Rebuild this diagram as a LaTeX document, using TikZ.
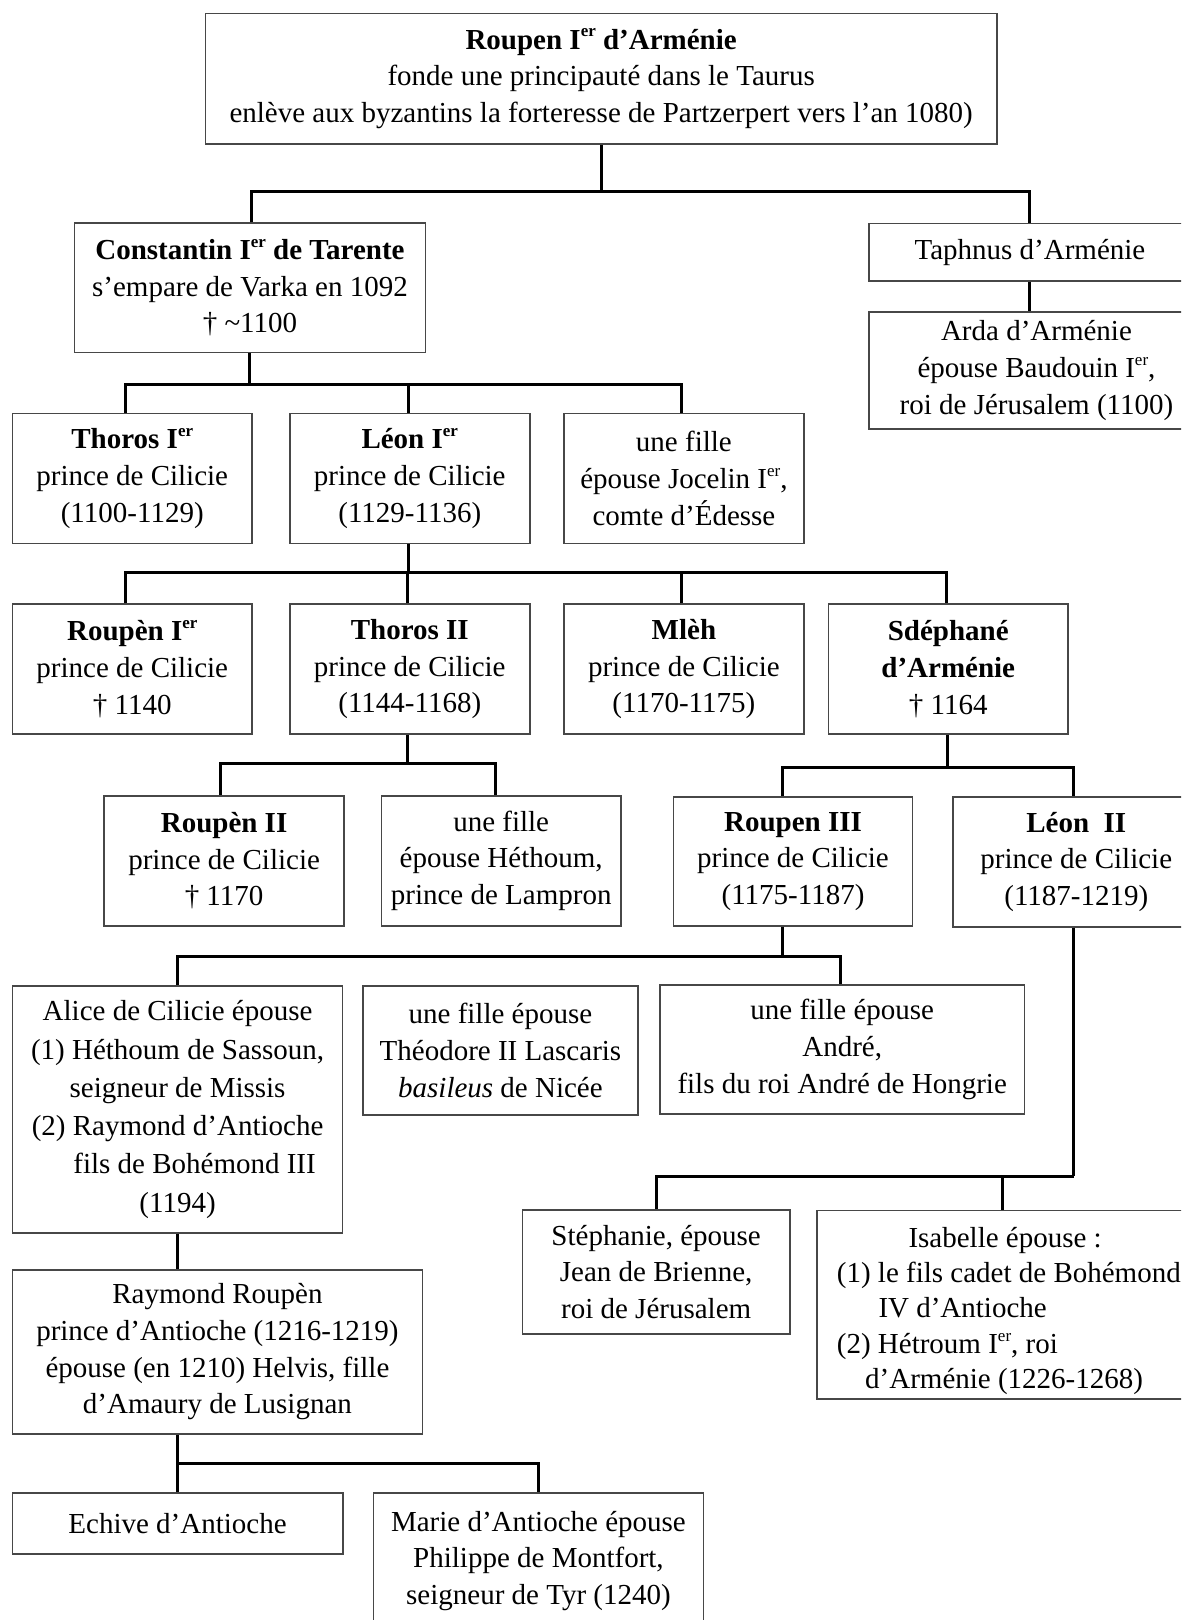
\documentclass[tikz,border=0pt]{standalone}
\usepackage{fontspec}
\setmainfont{Liberation Serif}
\usetikzlibrary{calc}
\newcommand\fsz{\fontsize{29}{36.7}\selectfont}
\newcommand\supr{\raisebox{0.42em}{\fontsize{17}{17}\selectfont er}}
\tikzset{
  box/.style={draw=black!72, line width=1.6pt, inner sep=0pt, align=center, anchor=north west, font=\fsz, fill=white},
  conn/.style={draw=black, line width=3pt, line join=miter},
}
\newcommand\mybox[7][]{\node[box,minimum width={#5pt-#3pt},minimum height={#6pt-#4pt},#1] (#2) at (#3,#4) {#7};}
\begin{document}
\begin{tikzpicture}[x=1pt,y=-1pt]
\useasboundingbox (0,0) rectangle (1181,1620);
\clip (0,0) rectangle (1181,1620);
\fill[white] (0,0) rectangle (1181,1620);

% bus levels
\coordinate (b1) at (0,191.7);
\coordinate (b2) at (0,384);
\coordinate (b3) at (0,572.3);
\coordinate (b4) at (0,763.3);
\coordinate (b5) at (0,767.3);
\coordinate (b6) at (0,956.7);
\coordinate (b7) at (0,1463.3);
\coordinate (b8) at (0,1176);

\mybox{roupen}{204.7}{12.7}{996}{143.3}{\textbf{Roupen I\supr{} d’Arménie}\\fonde une principauté dans le Taurus\\enlève aux byzantins la forteresse de Partzerpert vers l’an 1080)}
\mybox{const}{73.5}{222.3}{424.8}{351.7}{\textbf{Constantin I\supr{} de Tarente}\\s’empare de Varka en 1092\\† \textasciitilde1100}
\mybox{taph}{868.3}{222.7}{1190}{280}{Taphnus d’Arménie}
\mybox{arda}{868.3}{311}{1203}{428.3}{Arda d’Arménie\\épouse Baudouin I\supr,\\roi de Jérusalem (1100)}

\mybox{thor1}{11.5}{412.7}{251.4}{542.7}{\textbf{Thoros I\supr}\\prince de Cilicie\\(1100-1129)}
\mybox{leon1}{289}{412.7}{528.9}{542.7}{\textbf{Léon I\supr}\\prince de Cilicie\\(1129-1136)}
\mybox{joce}{563.3}{412.7}{802.9}{542.7}{une fille\\épouse Jocelin I\supr,\\comte d’Édesse}

\mybox{roup1}{11.5}{603.3}{251.4}{733.3}{\textbf{Roupèn I\supr}\\prince de Cilicie\\† 1140}
\mybox{thor2}{289}{603.3}{528.9}{733.3}{\textbf{Thoros II}\\prince de Cilicie\\(1144-1168)}
\mybox{mleh}{563.3}{603.3}{802.9}{733.3}{\textbf{Mlèh}\\prince de Cilicie\\(1170-1175)}
\mybox{sdep}{827.6}{603.3}{1067.3}{733.3}{\textbf{Sdéphané}\\\textbf{d’Arménie}\\† 1164}

\mybox{roup2}{103.3}{795}{343.3}{925}{\textbf{Roupèn II}\\prince de Cilicie\\† 1170}
\mybox{heth}{380.8}{795}{620}{925}{une fille\\épouse Héthoum,\\prince de Lampron}
\mybox{roup3}{672.8}{796}{911.6}{925}{\textbf{Roupen III}\\prince de Cilicie\\(1175-1187)}
\mybox{leon2}{952.3}{796}{1198.7}{926}{\textbf{Léon~~II}\\prince de Cilicie\\(1187-1219)}

\mybox[font=\fontsize{29}{38.3}\selectfont]{alice}{11.8}{985}{341.8}{1232.3}{Alice de Cilicie épouse\\(1) Héthoum de Sassoun,\\seigneur de Missis\\(2) Raymond d’Antioche\\\hspace*{34pt}fils de Bohémond III\\(1194)}
\mybox{theo}{362}{985}{637.3}{1114}{une fille épouse\\Théodore II Lascaris\\\textit{basileus} de Nicée}
\mybox{andre}{659.3}{984.3}{1023.5}{1113.3}{une fille épouse\\André,\\fils du roi André de Hongrie}

\mybox{raym}{11.5}{1269}{421.8}{1433.3}{Raymond Roupèn\\prince d’Antioche (1216-1219)\\épouse (en 1210) Helvis, fille\\d’Amaury de Lusignan}
\mybox{steph}{521.5}{1209.3}{789.2}{1333}{Stéphanie, épouse\\Jean de Brienne,\\roi de Jérusalem}
\mybox{isab}{816.4}{1209.6}{1186.6}{1398.3}{}
\node[anchor=north west, inner sep=0pt, align=left, font=\fontsize{29}{35.4}\selectfont] (isabtxt) at (836.7,1226.8)
  {\hspace*{71.6pt}Isabelle épouse :\\(1) le fils cadet de Bohémond\\\hspace*{41.6pt}IV d’Antioche\\(2) Hétroum I\supr, roi\\\hspace*{28.3pt}d’Arménie (1226-1268)};

\mybox{echi}{11.5}{1492.3}{342}{1553.3}{Echive d’Antioche}
\mybox{marie}{372.8}{1492.3}{702.5}{1628}{Marie d’Antioche épouse\\Philippe de Montfort,\\seigneur de Tyr (1240)}

% connectors
\draw[conn] (roupen.south) -- (roupen.south |- b1);
\draw[conn] ([xshift=1.5pt]const.north) |- (taph.north |- b1) -- (taph.north);
\draw[conn] (taph.south) -- (taph.south |- arda.north);

\draw[conn] (const.south) -- (const.south |- b2);
\draw[conn] ([xshift=-7pt]thor1.north) |- ([xshift=-2pt]joce.north |- b2) -- ([xshift=-2pt]joce.north);
\draw[conn] ([xshift=-1.4pt]leon1.north) -- ([xshift=-1.4pt]leon1.north |- b2);

\draw[conn] ([xshift=-1.4pt]leon1.south) -- ([xshift=-1.4pt]leon1.south |- b3);
\draw[conn] ([xshift=-7pt]roup1.north) |- ([xshift=-1.5pt]sdep.north |- b3) -- ([xshift=-1.5pt]sdep.north);
\draw[conn] ([xshift=-2pt]thor2.north) -- ([xshift=-2pt]thor2.north |- b3);
\draw[conn] ([xshift=-2pt]mleh.north) -- ([xshift=-2pt]mleh.north |- b3);

\draw[conn] ([xshift=-2pt]thor2.south) -- ([xshift=-2pt]thor2.south |- b4);
\draw[conn] ([xshift=-3.3pt]roup2.north) |- ([xshift=-5.6pt]heth.north |- b4) -- ([xshift=-5.6pt]heth.north);

\draw[conn] ([xshift=-0.4pt]sdep.south) -- ([xshift=-0.4pt]sdep.south |- b5);
\draw[conn] ([xshift=-10.7pt]roup3.north) |- ([xshift=-2.4pt]leon2.north |- b5) -- ([xshift=-2.4pt]leon2.north);

\draw[conn] ([xshift=-10.7pt]roup3.south) -- ([xshift=-10.7pt]roup3.south |- b6);
\draw[conn] (alice.north) |- ([xshift=-1.3pt]andre.north |- b6) -- ([xshift=-1.3pt]andre.north);

\draw[conn] (alice.south) -- (alice.south |- raym.north);
\draw[conn] (raym.south -| alice.south) -- (alice.south |- b7);
\draw[conn] (echi.north) |- (marie.north |- b7) -- (marie.north);

\draw[conn] ([xshift=-2.4pt]leon2.south) -- ([xshift=-2.4pt]leon2.south |- b8);
\draw[conn] (steph.north) |- ([xshift=-2.4pt]leon2.south |- b8);
\draw[conn] (isab.north) -- (isab.north |- b8);
\end{tikzpicture}
\end{document}
